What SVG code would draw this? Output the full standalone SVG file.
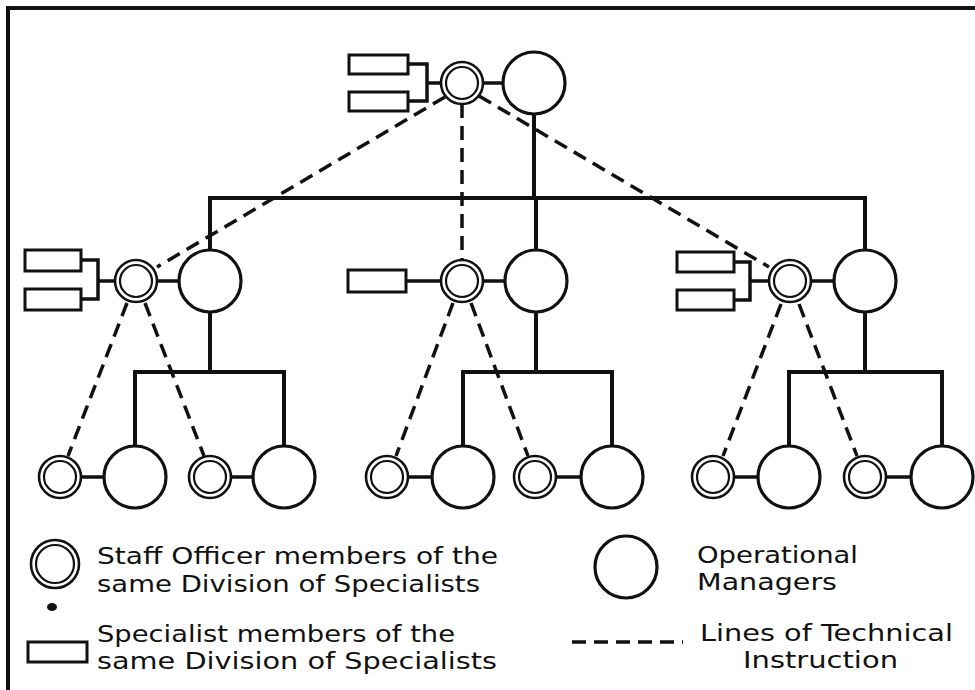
<svg xmlns="http://www.w3.org/2000/svg" width="975" height="690" viewBox="0 0 975 690">
  <style>
    .frame { fill: none; stroke: #111; stroke-width: 4; }
    .mgr { fill: #fff; stroke: #111; stroke-width: 3.2; }
    .staff-o { fill: #fff; stroke: #111; stroke-width: 2.6; }
    .staff-i { fill: none; stroke: #111; stroke-width: 2.2; }
    .spec { fill: #fff; stroke: #111; stroke-width: 3; }
    .line { fill: none; stroke: #111; stroke-width: 4; stroke-linecap: square; }
    .link { fill: none; stroke: #111; stroke-width: 3.5; }
    .dash { fill: none; stroke: #111; stroke-width: 3.5; stroke-dasharray: 14 8; }
    .lbl { font-family: "DejaVu Sans", "Liberation Sans", sans-serif; font-size: 23px; fill: #111; }
  </style>
  <defs>
    <g id="staff">
      <circle class="staff-o" r="21"/>
      <circle class="staff-i" r="16"/>
    </g>
    <g id="mgr">
      <circle class="mgr" r="31"/>
    </g>
  </defs>

  <rect width="975" height="690" fill="#fff"/>
  <!-- page frame: left and top edges -->
  <polyline class="frame" points="8,690 8,8 975,8"/>

  <!-- solid lines of line authority and dashed lines of technical instruction -->
  <g id="connectors">
    <!-- top level -->
    <line class="line" x1="534" y1="114" x2="534" y2="198"/>
    <polyline class="line" points="210,250 210,198 865,198 865,250"/>
    <line class="line" x1="536" y1="198" x2="536" y2="250"/>
    <!-- second level down to sub-buses -->
    <polyline class="line" points="135,447 135,372 284,372 284,447"/>
    <line class="line" x1="210" y1="312" x2="210" y2="372"/>
    <polyline class="line" points="463,447 463,372 612,372 612,447"/>
    <line class="line" x1="536" y1="312" x2="536" y2="372"/>
    <polyline class="line" points="789,447 789,372 942,372 942,447"/>
    <line class="line" x1="865" y1="312" x2="865" y2="372"/>

    <!-- staff officer to manager links -->
    <line class="link" x1="483" y1="83" x2="503" y2="83"/>
    <line class="link" x1="157" y1="281" x2="179" y2="281"/>
    <line class="link" x1="483" y1="281" x2="505" y2="281"/>
    <line class="link" x1="811" y1="281" x2="834" y2="281"/>
    <line class="link" x1="81" y1="477" x2="104" y2="477"/>
    <line class="link" x1="231" y1="477" x2="253" y2="477"/>
    <line class="link" x1="408" y1="477" x2="432" y2="477"/>
    <line class="link" x1="556" y1="477" x2="581" y2="477"/>
    <line class="link" x1="734" y1="477" x2="758" y2="477"/>
    <line class="link" x1="886" y1="477" x2="911" y2="477"/>

    <!-- specialist brackets -->
    <polyline class="link" points="408,64 427,64 427,101 408,101"/>
    <line class="link" x1="427" y1="83" x2="441" y2="83"/>
    <polyline class="link" points="81,260 98,260 98,299 81,299"/>
    <line class="link" x1="98" y1="281" x2="115" y2="281"/>
    <line class="link" x1="406" y1="281" x2="441" y2="281"/>
    <polyline class="link" points="734,262 750,262 750,300 734,300"/>
    <line class="link" x1="750" y1="281" x2="769" y2="281"/>

    <!-- lines of technical instruction -->
    <line class="dash" x1="445" y1="97" x2="157" y2="267"/>
    <line class="dash" x1="462" y1="104" x2="462" y2="259"/>
    <line class="dash" x1="479" y1="96" x2="769" y2="267"/>
    <line class="dash" x1="127" y1="303" x2="68" y2="456"/>
    <line class="dash" x1="145" y1="303" x2="204" y2="456"/>
    <line class="dash" x1="453" y1="303" x2="396" y2="456"/>
    <line class="dash" x1="471" y1="303" x2="528" y2="456"/>
    <line class="dash" x1="781" y1="304" x2="723" y2="456"/>
    <line class="dash" x1="799" y1="304" x2="857" y2="456"/>
  </g>

  <!-- top level -->
  <g id="spec-top-1"><rect class="spec" x="349" y="55" width="59" height="19"/></g>
  <g id="spec-top-2"><rect class="spec" x="349" y="92" width="59" height="19"/></g>
  <g id="staff-top"><use href="#staff" x="462" y="83"/></g>
  <g id="mgr-top"><use href="#mgr" x="534" y="83"/></g>

  <!-- middle level -->
  <g id="spec-left-1"><rect class="spec" x="25" y="250" width="56" height="21"/></g>
  <g id="spec-left-2"><rect class="spec" x="25" y="289" width="56" height="21"/></g>
  <g id="staff-left"><use href="#staff" x="136" y="281"/></g>
  <g id="mgr-left"><use href="#mgr" x="210" y="281"/></g>

  <g id="spec-mid"><rect class="spec" x="348" y="270" width="58" height="22"/></g>
  <g id="staff-mid"><use href="#staff" x="462" y="281"/></g>
  <g id="mgr-mid"><use href="#mgr" x="536" y="281"/></g>

  <g id="spec-right-1"><rect class="spec" x="677" y="252" width="57" height="20"/></g>
  <g id="spec-right-2"><rect class="spec" x="677" y="290" width="57" height="20"/></g>
  <g id="staff-right"><use href="#staff" x="790" y="281"/></g>
  <g id="mgr-right"><use href="#mgr" x="865" y="281"/></g>

  <!-- bottom level -->
  <g id="staff-b1"><use href="#staff" x="60" y="477"/></g>
  <g id="mgr-b1"><use href="#mgr" x="135" y="477"/></g>
  <g id="staff-b2"><use href="#staff" x="210" y="477"/></g>
  <g id="mgr-b2"><use href="#mgr" x="284" y="477"/></g>
  <g id="staff-b3"><use href="#staff" x="387" y="477"/></g>
  <g id="mgr-b3"><use href="#mgr" x="463" y="477"/></g>
  <g id="staff-b4"><use href="#staff" x="535" y="477"/></g>
  <g id="mgr-b4"><use href="#mgr" x="612" y="477"/></g>
  <g id="staff-b5"><use href="#staff" x="713" y="477"/></g>
  <g id="mgr-b5"><use href="#mgr" x="789" y="477"/></g>
  <g id="staff-b6"><use href="#staff" x="865" y="477"/></g>
  <g id="mgr-b6"><use href="#mgr" x="942" y="477"/></g>

  <!-- key -->
  <g id="key">
    <circle class="staff-o" cx="55" cy="564" r="24"/>
    <circle class="staff-i" cx="55" cy="564" r="19"/>
    <ellipse cx="52" cy="607" rx="5" ry="4" fill="#111"/>
    <text class="lbl" x="97" y="564" textLength="401" lengthAdjust="spacingAndGlyphs">Staff Officer members of the</text>
    <text class="lbl" x="97" y="592" textLength="383" lengthAdjust="spacingAndGlyphs">same Division of Specialists</text>

    <rect class="spec" x="28" y="642" width="59" height="20"/>
    <text class="lbl" x="97" y="642" textLength="358" lengthAdjust="spacingAndGlyphs">Specialist members of the</text>
    <text class="lbl" x="97" y="669" textLength="400" lengthAdjust="spacingAndGlyphs">same Division of Specialists</text>

    <circle class="mgr" cx="626" cy="567" r="31"/>
    <text class="lbl" x="697" y="563" textLength="161" lengthAdjust="spacingAndGlyphs">Operational</text>
    <text class="lbl" x="697" y="590" textLength="140" lengthAdjust="spacingAndGlyphs">Managers</text>

    <line class="dash" x1="572" y1="642" x2="683" y2="642" stroke-dasharray="13 6"/>
    <text class="lbl" x="700" y="641" textLength="253" lengthAdjust="spacingAndGlyphs">Lines of Technical</text>
    <text class="lbl" x="743" y="668" textLength="155" lengthAdjust="spacingAndGlyphs">Instruction</text>
  </g>
</svg>
